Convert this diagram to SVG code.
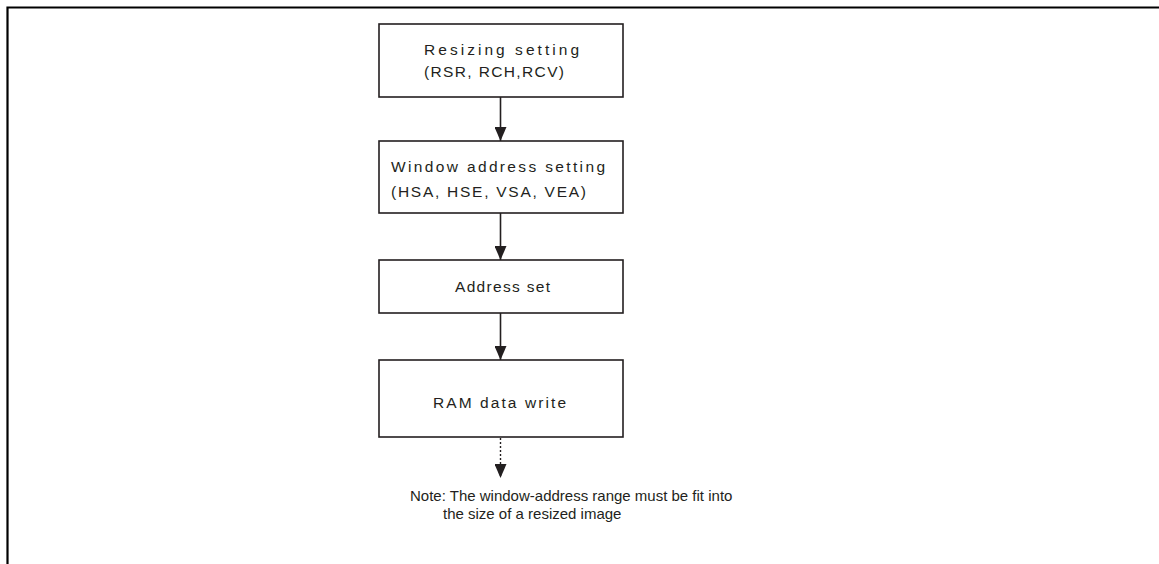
<svg xmlns="http://www.w3.org/2000/svg" width="1159" height="564" viewBox="0 0 1159 564">
<defs>
<style>
.box{fill:#fff;stroke:#231f20;stroke-width:1.6}
.t{font-family:"Liberation Sans",Arial,sans-serif;font-size:15.5px;fill:#231f20}
.n{font-family:"Liberation Sans",Arial,sans-serif;font-size:15px;fill:#231f20}
.c{stroke:#231f20;stroke-width:1.6;fill:none}
.d{stroke:#231f20;stroke-width:1.4;fill:none;stroke-dasharray:2 2}
</style>
<marker id="ah" viewBox="0 0 14 12" refX="14" refY="6" markerWidth="14" markerHeight="12" markerUnits="userSpaceOnUse" orient="auto">
<path d="M0,0 L14,6 L0,12 Z" fill="#231f20"/>
</marker>
</defs>
<rect width="1159" height="564" fill="#fff"/>
<g id="frame">
<path d="M7.5,564 V7.5 H1159" fill="none" stroke="#000" stroke-width="2.2"/>
</g>
<g id="connectors">
<line class="c" x1="500.5" y1="97" x2="500.5" y2="141" marker-end="url(#ah)"/>
<line class="c" x1="500.5" y1="213" x2="500.5" y2="260" marker-end="url(#ah)"/>
<line class="c" x1="500.5" y1="313" x2="500.5" y2="360" marker-end="url(#ah)"/>
<line class="d" x1="500.5" y1="438" x2="500.5" y2="478" marker-end="url(#ah)"/>
</g>
<g id="node1">
<rect class="box" x="379" y="24" width="244" height="73"/>
<text class="t" x="424" y="55" textLength="155" lengthAdjust="spacing">Resizing setting</text>
<text class="t" x="424" y="77" textLength="140" lengthAdjust="spacing">(RSR, RCH,RCV)</text>
</g>
<g id="node2">
<rect class="box" x="379" y="141" width="244" height="72"/>
<text class="t" x="391" y="172" textLength="214" lengthAdjust="spacing">Window address setting</text>
<text class="t" x="391" y="197" textLength="195" lengthAdjust="spacing">(HSA, HSE, VSA, VEA)</text>
</g>
<g id="node3">
<rect class="box" x="379" y="260" width="244" height="53"/>
<text class="t" x="455" y="292" textLength="95" lengthAdjust="spacing">Address set</text>
</g>
<g id="node4">
<rect class="box" x="379" y="360" width="244" height="77"/>
<text class="t" x="433" y="408" textLength="133" lengthAdjust="spacing">RAM data write</text>
</g>
<g id="note">
<text class="n" x="410" y="501">Note: The window-address range must be fit into</text>
<text class="n" x="443" y="519">the size of a resized image</text>
</g>
</svg>
